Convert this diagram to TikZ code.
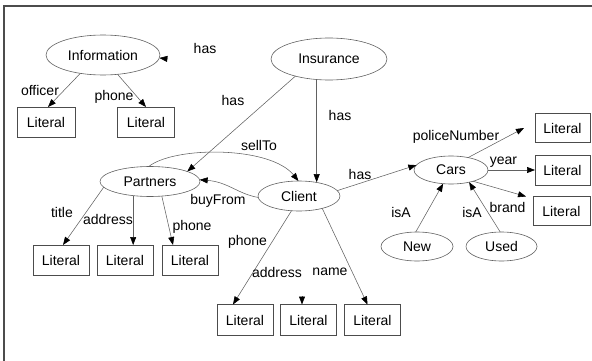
\documentclass[tikz,border=0pt]{standalone}
\usepackage{fontspec}
\setmainfont{Liberation Sans}
\usetikzlibrary{shapes.geometric,arrows.meta}
\definecolor{linegray}{gray}{0.38}
\definecolor{boxgray}{gray}{0.3}
\definecolor{framegray}{gray}{0.3}
\begin{document}
\begin{tikzpicture}[x=1pt,y=-1pt,
  txt/.style={font=\fontsize{14}{16}\selectfont},
  cls/.style={ellipse,draw=linegray,line width=0.6pt,inner sep=0pt,outer sep=0pt,txt},
  lit/.style={rectangle,draw=boxgray,line width=0.7pt,minimum width=57pt,minimum height=30pt,inner sep=0pt,outer sep=0pt,txt},
  lbl/.style={inner sep=0pt,txt},
  edge/.style={draw=linegray,line width=0.55pt,-{Triangle[length=8pt,width=6pt,black]}}
]
\useasboundingbox (0,0) rectangle (592,361);
% frame
\draw[framegray,line width=1.4pt] (4,361) -- (4,6) -- (592,6);

% class nodes
\node[cls,minimum width=114pt,minimum height=40pt] (info) at (103,55) {Information};
\node[cls,minimum width=116pt,minimum height=42pt] (ins) at (329,59) {Insurance};
\node[cls,minimum width=100pt,minimum height=30pt] (partners) at (150,181.5) {Partners};
\node[cls,minimum width=82pt,minimum height=30pt] (client) at (299,196) {Client};
\node[cls,minimum width=74pt,minimum height=28pt] (cars) at (451,170) {Cars};
\node[cls,minimum width=72pt,minimum height=29pt] (new) at (417,246.5) {New};
\node[cls,minimum width=71pt,minimum height=29pt] (used) at (501.5,246.5) {Used};

% literal boxes
\node[lit,minimum width=58pt] (i1) at (46,122) {Literal};
\node[lit] (i2) at (146,122) {Literal};
\node[lit,minimum width=56pt] (p1) at (61,260) {Literal};
\node[lit,minimum width=56pt] (p2) at (125,260) {Literal};
\node[lit,minimum width=56pt] (p3) at (190,260) {Literal};
\node[lit,minimum width=56pt,minimum height=31pt] (c1) at (245,320) {Literal};
\node[lit,minimum width=56pt,minimum height=31pt] (c2) at (308.5,320) {Literal};
\node[lit,minimum width=56pt,minimum height=31pt] (c3) at (372.5,320) {Literal};
\node[lit,minimum width=55pt,minimum height=29pt] (r1) at (562.5,128) {Literal};
\node[lit,minimum width=55pt,minimum height=30pt] (r2) at (562.5,170) {Literal};
\node[lit,minimum width=57pt,minimum height=29pt] (r3) at (561.5,211) {Literal};

% free ends
\coordinate (hasfree) at (168,59);
\coordinate (cafree) at (302,296);

% connectors
\draw[edge] (hasfree) -- (info.-3);
\draw[edge] (info.-141) -- ([xshift=2pt]i1.north);
\draw[edge] (info.-53) -- (i2.north);
\draw[edge] (ins.-153) -- (partners.15);
\draw[edge] (ins.-121) -- (ins.-121 |- client.41);
\draw[edge] (partners.95) .. controls (175,146) and (270,146) .. (client.92);
\draw[edge] (client.182) .. controls (238,194) and (228,182) .. (partners.2);
\draw[edge] (partners.187) -- ([xshift=2pt]p1.north);
\draw[edge] (partners.-140) -- (partners.-140 |- p2.north);
\draw[edge] (partners.-51) -- ([xshift=-17pt]p3.north);
\draw[edge] (client.-117) -- ([xshift=-12pt]c1.north);
\draw[edge] (cafree) -- (cafree |- c2.north);
\draw[edge] (client.-28) -- ([xshift=-5pt]c3.north);
\draw[edge] (client.8) -- (cars.172);
\draw[edge] (cars.36) -- ([xshift=-11pt]r1.west);
\draw[edge] (cars.east) -- (cars.east -| r2.west);
\draw[edge] (cars.-27) -- ([xshift=-7pt]r3.north west);
\draw[edge] (new.95) -- (cars.-120);
\draw[edge] (used.95) -- (cars.-34);

% labels
\node[lbl] (l1) at (205,48) {has};
\node[lbl] (l2) at (40,90) {officer};
\node[lbl] (l3) at (114,97) {phone};
\node[lbl] (l4) at (233,100) {has};
\node[lbl] (l5) at (340,115) {has};
\node[lbl] (l6) at (259,145) {sellTo};
\node[lbl] (l7) at (456,137) {policeNumber};
\node[lbl] (l8) at (503.5,162) {year};
\node[lbl] (l9) at (360,174) {has};
\node[lbl] (l10) at (218,201) {buyFrom};
\node[lbl] (l11) at (62,212) {title};
\node[lbl] (l12) at (108,219) {address};
\node[lbl] (l13) at (192,227) {phone};
\node[lbl] (l14) at (507.5,207) {brand};
\node[lbl] (l15) at (401,212) {isA};
\node[lbl] (l16) at (472,212) {isA};
\node[lbl] (l17) at (247.5,242) {phone};
\node[lbl] (l18) at (277,272) {address};
\node[lbl] (l19) at (330,272) {name};
\end{tikzpicture}
\end{document}
